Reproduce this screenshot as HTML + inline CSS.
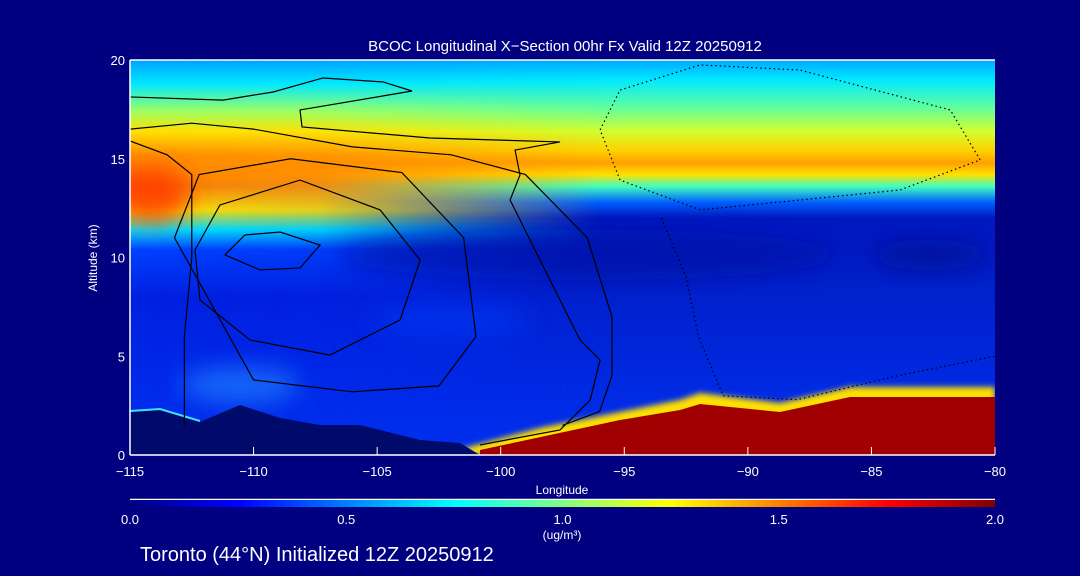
<!DOCTYPE html>
<html><head><meta charset="utf-8"><style>
body{margin:0;background:#000080;}
svg{display:block;font-family:"Liberation Sans",sans-serif;}
</style></head><body>
<svg id="chart" width="1080" height="576" viewBox="0 0 1080 576">
<defs>
<linearGradient id="gr" x1="0" y1="60" x2="0" y2="455" gradientUnits="userSpaceOnUse">
<stop offset="0" stop-color="#00a8ff"/><stop offset="0.05" stop-color="#00e8ff"/>
<stop offset="0.12" stop-color="#60ffa0"/><stop offset="0.18" stop-color="#d0ff30"/>
<stop offset="0.23" stop-color="#ffd000"/><stop offset="0.26" stop-color="#ffa000"/>
<stop offset="0.29" stop-color="#ffe000"/><stop offset="0.32" stop-color="#40ffc0"/>
<stop offset="0.36" stop-color="#0060ff"/><stop offset="0.40" stop-color="#0018c0"/>
<stop offset="0.55" stop-color="#0020c8"/><stop offset="0.8" stop-color="#0028e0"/>
<stop offset="1" stop-color="#0030f0"/></linearGradient>
<linearGradient id="gl" x1="0" y1="60" x2="0" y2="455" gradientUnits="userSpaceOnUse">
<stop offset="0" stop-color="#00a0ff"/><stop offset="0.06" stop-color="#00e8ff"/>
<stop offset="0.13" stop-color="#a0ff60"/><stop offset="0.18" stop-color="#ffe000"/>
<stop offset="0.24" stop-color="#ff9000"/><stop offset="0.32" stop-color="#ff8000"/>
<stop offset="0.38" stop-color="#ffe000"/><stop offset="0.43" stop-color="#00e0ff"/>
<stop offset="0.48" stop-color="#0040ff"/><stop offset="0.6" stop-color="#0020e0"/>
<stop offset="1" stop-color="#0030f0"/></linearGradient>
<linearGradient id="fade" x1="130" x2="600" y1="0" y2="0" gradientUnits="userSpaceOnUse">
<stop offset="0" stop-color="#fff"/><stop offset="0.4" stop-color="#fff" stop-opacity="0.9"/><stop offset="1" stop-color="#fff" stop-opacity="0"/></linearGradient>
<mask id="m"><rect x="130" y="60" width="865" height="395" fill="url(#fade)"/></mask>
<linearGradient id="jet" x1="0" x2="1" y1="0" y2="0">
<stop offset="0" stop-color="#000080"/><stop offset="0.125" stop-color="#0000ff"/>
<stop offset="0.375" stop-color="#00ffff"/><stop offset="0.625" stop-color="#ffff00"/>
<stop offset="0.875" stop-color="#ff0000"/><stop offset="1" stop-color="#800000"/></linearGradient>
<filter id="b" x="-50%" y="-50%" width="200%" height="200%"><feGaussianBlur stdDeviation="12"/></filter>
<filter id="b2"><feGaussianBlur stdDeviation="3"/></filter>
<clipPath id="pc"><rect x="130" y="60" width="865" height="395"/></clipPath>
</defs>
<text x="565" y="51" fill="#fff" font-size="15" text-anchor="middle">BCOC Longitudinal X−Section 00hr  Fx Valid 12Z 20250912</text>
<g clip-path="url(#pc)">
<rect x="130" y="60" width="865" height="395" fill="url(#gr)"/>
<rect x="130" y="60" width="865" height="395" fill="url(#gl)" mask="url(#m)"/>
<ellipse cx="150" cy="195" rx="40" ry="28" fill="#ff3000" filter="url(#b)" opacity="0.8"/>
<ellipse cx="590" cy="255" rx="250" ry="25" fill="#0010a0" filter="url(#b)" opacity="0.6"/>
<ellipse cx="930" cy="255" rx="60" ry="15" fill="#000c90" filter="url(#b)" opacity="0.7"/>
<ellipse cx="240" cy="385" rx="60" ry="18" fill="#2080ff" filter="url(#b)" opacity="0.7"/>
<ellipse cx="450" cy="320" rx="80" ry="15" fill="#0040ff" filter="url(#b)" opacity="0.5"/>
<polygon filter="url(#b2)" fill="#ffe000" points="450,452 540,428 620,412 680,400 700,393 780,403 850,387 995,387 995,455 450,455"/>
<polygon fill="#a00000" points="480,450 550,435 620,420 680,410 700,404 780,412 850,397 995,397 995,455 480,455"/>
<polygon fill="#000a6a" points="130,412 160,410 200,422 240,405 280,418 320,425 360,425 420,440 460,443 480,455 130,455"/>
<polyline fill="none" stroke="#40e0ff" stroke-width="2" points="130,411 160,409 200,421"/>
<g id="contours"></g>
</g>
<g stroke="#fff" stroke-width="1.5" fill="none">
<line x1="130" y1="60" x2="995" y2="60"/><line x1="130" y1="60" x2="130" y2="455"/><line x1="130" y1="455" x2="995" y2="455"/>
</g>
<g id="ticks" fill="#fff" font-size="13"></g>
<text x="562" y="494" fill="#fff" font-size="12" text-anchor="middle">Longitude</text>
<text transform="translate(97,258) rotate(-90)" fill="#fff" font-size="12" text-anchor="middle">Altitude (km)</text>
<line x1="130" y1="499.5" x2="995" y2="499.5" stroke="#fff" stroke-width="1.5"/>
<rect x="130" y="500" width="865" height="7" fill="url(#jet)"/>
<g id="cbticks" fill="#fff" font-size="13"></g>
<text x="562" y="539" fill="#fff" font-size="12" text-anchor="middle">(ug/m³)</text>
<text x="140" y="561" fill="#fff" font-size="20">Toronto (44°N) Initialized 12Z 20250912</text>
</svg>
<script>
const lonTicks=[-115,-110,-105,-100,-95,-90,-85,-80];
const altTicks=[0,5,10,15,20];
const cbTicks=["0.0","0.5","1.0","1.5","2.0"];
const contourA_lon=[-115,-111.24,-109.21,-107.19,-104.76,-103.59,-108.12,-108.04,-102.86,-97.6,-99.42,-99.22,-99.62,-98.41,-96.79,-95.98,-96.38,-97.6,-100.84];
const contourA_alt=[18.13,17.97,18.38,19.09,18.89,18.43,17.47,16.61,16.05,15.85,15.44,14.18,12.91,9.87,5.82,4.81,2.78,1.27,0.51];
const contourB_lon=[-115,-112.5,-110,-106,-102,-99,-96.5,-95.5,-95.5,-96,-97.5];
const contourB_alt=[16.5,16.8,16.5,15.6,15.2,14.2,11,7,4,2.2,1.5];
const contourC_lon=[-115,-113.5,-112.5,-112.5,-112.8,-112.8];
const contourC_alt=[15.9,15.2,14.2,10,6,1.5];
const ring1_lon=[-111.16,-110.35,-108.93,-107.31,-108.12,-109.74,-111.16];
const ring1_alt=[10.13,11.14,11.29,10.63,9.47,9.37,10.13];
const ring2_lon=[-112.37,-111.36,-108.12,-104.88,-103.26,-104.07,-106.91,-110.14,-112.17,-112.37];
const ring2_alt=[10.38,12.66,13.92,12.41,9.87,6.84,5.06,5.82,7.85,10.38];
const ring3_lon=[-113.2,-112.2,-108.5,-104,-101.5,-101,-102.5,-106,-110,-113.2];
const ring3_alt=[11,14.2,15,14.3,11,6,3.5,3.2,3.8,11];
const dotA_lon=[-95.17,-91.93,-87.89,-81.81,-80.6,-83.84,-87.89,-91.93,-95.17,-95.98,-95.17];
const dotA_alt=[18.48,19.75,19.49,17.47,14.94,13.42,12.91,12.41,13.92,16.46,18.48];
const dotB_lon=[-93.5,-92.5,-92,-91,-88,-84,-80];
const dotB_alt=[12,9,6,3,2.8,4,5];
const X=l=>130+(l+115)*(865/35);
const Y=a=>455-a*(395/20);
const NS="http://www.w3.org/2000/svg";
const cg=document.getElementById('contours');
function line(lons,alts,dotted,name){
  const p=document.createElementNS(NS,'polyline');
  p.setAttribute('points',lons.map((l,i)=>X(l)+','+Y(alts[i])).join(' '));
  p.setAttribute('fill','none');p.setAttribute('stroke','#000');
  p.setAttribute('stroke-width','1.2');
  if(dotted)p.setAttribute('stroke-dasharray','1.5,3');
  
  
  cg.appendChild(p);
}
line(contourA_lon,contourA_alt,false,'contour-0');
line(contourB_lon,contourB_alt,false,'contour-10');
line(contourC_lon,contourC_alt,false,'contour-20-west');
line(ring1_lon,ring1_alt,false,'contour-ring-inner');
line(ring2_lon,ring2_alt,false,'contour-ring-20');
line(ring3_lon,ring3_alt,false,'contour-ring-10');
line(dotA_lon,dotA_alt,true,'contour-negative-upper');
line(dotB_lon,dotB_alt,true,'contour-negative-lower');
const tg=document.getElementById('ticks');
lonTicks.forEach(v=>{
  const t=document.createElementNS(NS,'text');
  t.setAttribute('x',X(v));t.setAttribute('y',476);t.setAttribute('text-anchor','middle');
  t.textContent=String(v).replace('-','−');
  
  
  tg.appendChild(t);
  const k=document.createElementNS(NS,'line');
  k.setAttribute('x1',X(v));k.setAttribute('x2',X(v));k.setAttribute('y1',455);k.setAttribute('y2',447);
  k.setAttribute('stroke','#fff');
  tg.appendChild(k);
});
altTicks.forEach(v=>{
  const t=document.createElementNS(NS,'text');
  t.setAttribute('x',125);t.setAttribute('y',Y(v)+5);t.setAttribute('text-anchor','end');
  t.textContent=v;
  
  
  tg.appendChild(t);
});
const cb=document.getElementById('cbticks');
cbTicks.forEach((v,i)=>{
  const t=document.createElementNS(NS,'text');
  t.setAttribute('x',130+i*865/4);t.setAttribute('y',524);t.setAttribute('text-anchor','middle');
  t.textContent=v;
  
  
  cb.appendChild(t);
});
</script>
</body></html>
